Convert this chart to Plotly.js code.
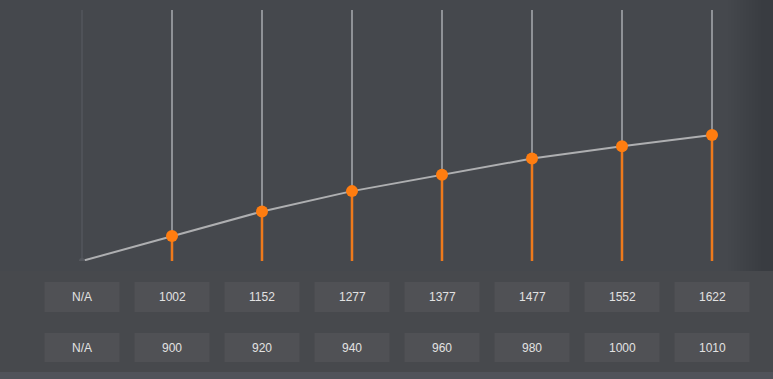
<!DOCTYPE html>
<html>
<head>
<meta charset="utf-8">
<script src="https://cdn.plot.ly/plotly-3.0.1.min.js"></script>
<style>
html,body{margin:0;padding:0;background:#45484d;overflow:hidden;}
#chart{width:773px;height:379px;}
</style>
</head>
<body>
<div id="chart"></div>
<script>
// ---- data ----
var categories = [0, 1, 2, 3, 4, 5, 6, 7];
var seriesValues = [null, 1002, 1152, 1277, 1377, 1477, 1552, 1622];
var row1Labels = ["N/A", "1002", "1152", "1277", "1377", "1477", "1552", "1622"];
var row2Labels = ["N/A", "900", "920", "940", "960", "980", "1000", "1010"];
var yMin = 848;
var yMax = 2389;

// ---- build traces ----
var lineY = seriesValues.map(function(v){ return v === null ? yMin : v; });

var grayX = [], grayY = [], orangeX = [], orangeY = [];
var faintX = [], faintY = [];
categories.forEach(function(c, i){
  var v = seriesValues[i];
  if (v === null) {
    faintX.push(c, c, null); faintY.push(yMax, yMin, null);
  } else {
    grayX.push(c, c, null); grayY.push(yMax, v, null);
    orangeX.push(c, c, null); orangeY.push(v, yMin, null);
  }
});

var traces = [
  {x: faintX, y: faintY, mode: 'lines', line: {color: '#5a5d64', width: 1}, hoverinfo: 'skip'},
  {x: grayX, y: grayY, mode: 'lines', line: {color: '#8f9297', width: 2}, hoverinfo: 'skip'},
  {x: orangeX, y: orangeY, mode: 'lines', line: {color: '#ee7a1c', width: 2.5}, hoverinfo: 'skip'},
  {x: categories, y: lineY, mode: 'lines', line: {color: '#aeafb1', width: 2}, hoverinfo: 'skip'},
  {x: categories.filter(function(c,i){return seriesValues[i]!==null;}),
   y: seriesValues.filter(function(v){return v!==null;}),
   mode: 'markers', marker: {color: '#ff7d10', size: 12}, hoverinfo: 'skip'},
  {x: [categories[0]], y: [yMin], mode: 'markers', marker: {color: '#55585e', size: 6}, hoverinfo: 'skip'}
];

// ---- layout geometry ----
var W = 773, H = 379;
function py(px){ return (H - px) / H; }
var step = 90, x0px = 82;
var xRange = [-x0px/step, (W - x0px)/step];

var shapes = [
  {type:'rect', xref:'paper', yref:'paper', x0:0, x1:1, y0:py(372), y1:py(271), fillcolor:'#47494d', line:{width:0}, layer:'below'},
  {type:'rect', xref:'paper', yref:'paper', x0:0, x1:1, y0:0, y1:py(372), fillcolor:'#50535a', line:{width:0}, layer:'below'}
];
// soft shadow on the right edge of the plot area
for (var k = 0; k < 12; k++) {
  var xs = 728 + k * 3;
  shapes.push({type:'rect', xref:'paper', yref:'paper', x0:xs/W, x1:1, y0:py(271), y1:1,
    fillcolor:'#2e3033', line:{width:0}, layer:'below', opacity:0.035});
}
var annotations = [];
var boxHalf = 37.5/step;
categories.forEach(function(c, i){
  [[row1Labels[i], 282, 312], [row2Labels[i], 333, 362]].forEach(function(r){
    shapes.push({type:'rect', xref:'x', yref:'paper', x0:c-boxHalf, x1:c+boxHalf,
      y0:py(r[2]), y1:py(r[1]), fillcolor:'#505155', line:{width:0}, layer:'below'});
    annotations.push({xref:'x', yref:'paper', x:c, y:py((r[1]+r[2])/2), text:r[0],
      showarrow:false, font:{family:'Liberation Sans, Arial, sans-serif', size:12, color:'#e2e2e2'},
      xanchor:'center', yanchor:'middle'});
  });
});

var layout = {
  width: W, height: H,
  margin: {l:0, r:0, t:0, b:0, pad:0},
  paper_bgcolor: '#45484d',
  plot_bgcolor: 'rgba(0,0,0,0)',
  showlegend: false,
  xaxis: {range: xRange, visible: false, fixedrange: true},
  yaxis: {range: [yMin, yMax], domain: [py(261), py(10)], visible: false, fixedrange: true},
  shapes: shapes,
  annotations: annotations
};

Plotly.newPlot('chart', traces, layout, {displayModeBar: false, staticPlot: true});
</script>
</body>
</html>
